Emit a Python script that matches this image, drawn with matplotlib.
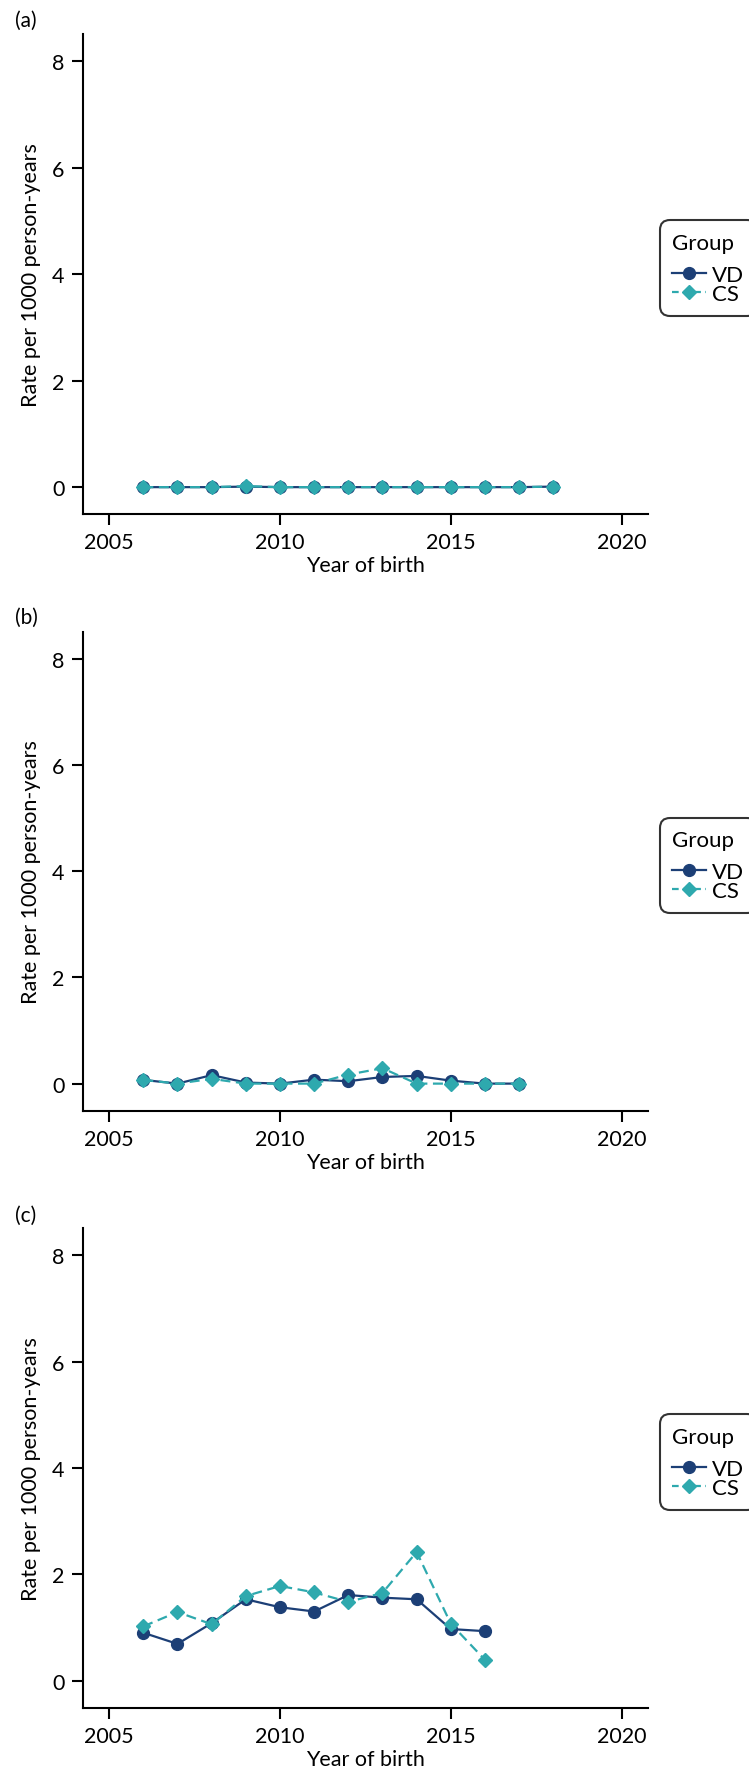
#!/usr/bin/env python3
# Rate per 1000 person-years by year of birth, VD vs CS, three panels

import matplotlib
matplotlib.use("Agg")
import matplotlib.pyplot as plt
from matplotlib.lines import Line2D

plt.rcParams["font.family"] = ["Lato", "DejaVu Sans"]

# ───────────── data ─────────────
YEARS_A = list(range(2006, 2019))
VD_A = [0.0, 0.0, 0.0, 0.01, 0.0, 0.0, 0.0, 0.0, 0.0, 0.0, 0.0, 0.0, 0.01]
CS_A = [0.0, 0.0, 0.0, 0.02, 0.0, 0.0, 0.0, 0.0, 0.0, 0.0, 0.0, 0.0, 0.01]

YEARS_B = list(range(2006, 2018))
VD_B = [0.07, 0.0, 0.16, 0.02, 0.0, 0.075, 0.045, 0.125, 0.145, 0.056, 0.0, 0.0]
CS_B = [0.07, 0.0, 0.09, 0.0, 0.0, 0.0, 0.17, 0.29, 0.0, 0.0, 0.0, 0.0]

YEARS_C = list(range(2006, 2017))
VD_C = [0.90, 0.69, 1.08, 1.53, 1.38, 1.30, 1.61, 1.56, 1.53, 0.97, 0.93]
CS_C = [1.02, 1.29, 1.06, 1.59, 1.78, 1.66, 1.48, 1.65, 2.42, 1.07, 0.39]

PANELS = ["(a)", "(b)", "(c)"]
GROUPS = ["VD", "CS"]
# ────────────────────────────────

VD_COL = "#1c3f76"
CS_COL = "#2ea9ae"
DASH = (0, (4.5, 2.5))

W, H = 749, 1781
fig = plt.figure(figsize=(W / 100, H / 100), dpi=100)

left = 82.5 / W
width = (648.3 - 82.5) / W
tops = [35.0, 632.7, 1229.3]
bottoms = [515.3, 1111.7, 1708.7]

data = [
    (YEARS_A, VD_A, CS_A),
    (YEARS_B, VD_B, CS_B),
    (YEARS_C, VD_C, CS_C),
]

for i, (yrs, vd, cs) in enumerate(data):
    ax = fig.add_axes([left, 1 - bottoms[i] / H, width, (bottoms[i] - tops[i]) / H])
    ax.plot(yrs, vd, color=VD_COL, lw=1.6, marker="o", ms=8.5,
            mec=VD_COL, mfc=VD_COL, zorder=3)
    ax.plot(yrs, cs, color=CS_COL, lw=1.6, ls=DASH, marker="D",
            ms=7.5, mec=CS_COL, mfc=CS_COL, zorder=4)

    ax.set_xlim(2004.22, 2020.78)
    ax.set_ylim(-0.51, 8.51)
    ax.set_xticks([2005, 2010, 2015, 2020])
    ax.set_yticks([0, 2, 4, 6, 8])
    for s in ("top", "right"):
        ax.spines[s].set_visible(False)
    for s in ("left", "bottom"):
        ax.spines[s].set_linewidth(1.5)
    ax.tick_params(direction="out", length=8, width=1.5, labelsize=15.5,
                   pad=5)
    ax.set_xlabel("Year of birth", fontsize=15.5, labelpad=2)
    ax.set_ylabel("Rate per 1000 person-years", fontsize=15.5, labelpad=8)

    handles = [
        Line2D([], [], color=VD_COL, lw=1.6, marker="o", ms=8.5),
        Line2D([], [], color=CS_COL, lw=1.6, ls=(0, (3, 2)), marker="D", ms=7.5),
    ]
    leg = ax.legend(handles, GROUPS, title="Group", loc="center left",
                    bbox_to_anchor=(1.0207, 0.512), borderaxespad=0,
                    fontsize=16, title_fontsize=16, frameon=True,
                    fancybox=True, edgecolor="black", handlelength=1.5,
                    handletextpad=0.3, labelspacing=-0.05,
                    borderpad=0.55, alignment="left")
    leg._legend_box.sep = 9
    leg.get_frame().set_linewidth(1.5)
    leg.get_frame().set_boxstyle("round", pad=0, rounding_size=0.45)

    fig.text(15 / W, 1 - (21 + 597.3 * i) / H, PANELS[i], fontsize=15,
             va="center", ha="left")

fig.savefig("out.png", dpi=100)
